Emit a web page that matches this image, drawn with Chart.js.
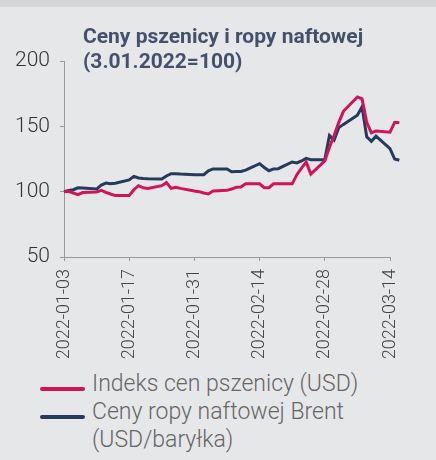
<!DOCTYPE html>
<html>
<head>
<meta charset="utf-8">
<script src="https://cdn.jsdelivr.net/npm/chart.js@4"></script>
<style>
  body { margin: 0; background: #e6e7e9; }
  #wrap { position: relative; width: 436px; height: 460px; overflow: hidden; background: #e6e7e9; }
  #band { position: absolute; left: 0; top: 0; width: 436px; height: 7px; background: #d4d5d7; }
  #box { position: absolute; left: 0; top: 0; width: 436px; height: 366px; }
  #tytul { position: absolute; left: 83px; top: 24px; font: bold 21px Roboto, sans-serif; line-height: 25px; color: #45506b; }
  #legenda { position: absolute; left: 0; top: 370px; font: 300 23px Roboto, sans-serif; line-height: 28px; color: #666; }
  .poz { position: relative; padding-left: 92px; width: 330px; }
  .kreska { position: absolute; left: 40px; top: 17px; width: 45px; height: 4px; border-radius: 2px; }
</style>
</head>
<body>
<div id="wrap">
  <div id="band"></div>
  <div id="box"><canvas id="grafico"></canvas></div>
  <div id="tytul">Ceny pszenicy i ropy naftowej<br>(3.01.2022=100)</div>
  <div id="legenda"></div>
</div>
<script>
const dni = [
  '2022-01-03','2022-01-04','2022-01-05','2022-01-06','2022-01-07',
  '2022-01-10','2022-01-11','2022-01-12','2022-01-13','2022-01-14',
  '2022-01-17','2022-01-18','2022-01-19','2022-01-20','2022-01-21',
  '2022-01-24','2022-01-25','2022-01-26','2022-01-27','2022-01-28',
  '2022-01-31','2022-02-01','2022-02-02','2022-02-03','2022-02-04',
  '2022-02-07','2022-02-08','2022-02-09','2022-02-10','2022-02-11',
  '2022-02-14','2022-02-15','2022-02-16','2022-02-17','2022-02-18',
  '2022-02-21','2022-02-22','2022-02-23','2022-02-24','2022-02-25',
  '2022-02-28','2022-03-01','2022-03-02','2022-03-03','2022-03-04',
  '2022-03-07','2022-03-08','2022-03-09','2022-03-10','2022-03-11',
  '2022-03-14','2022-03-15','2022-03-16'
];

const pszenica = [
  100, 100.3, 99, 97.7, 99.3,
  99.8, 101, 99.5, 98.2, 97,
  97, 101.5, 104.6, 103, 102.5,
  104.6, 107, 102.5, 103.3, 102.5,
  100.5, 100, 99, 98.2, 100.5,
  101, 102, 103.3, 103.5, 106,
  106, 103, 103, 106, 106,
  106, 113, 118, 122.7, 113.5,
  123.5, 134, 143, 153, 161.5,
  172.5, 171, 153, 145, 146.5,
  145.5, 153, 153
];

const brent = [
  100, 101, 101.5, 103, 102.8,
  102, 105, 106.6, 106, 106.5,
  109, 111.7, 110.5, 110, 109.8,
  109.7, 112, 113.8, 113.8, 113.5,
  113, 113, 113, 116, 117.4,
  117.4, 115.3, 115.5, 115.5, 116.5,
  121.4, 118.5, 116, 117.4, 117.6,
  122.7, 122, 123.5, 125.5, 124.5,
  124.5, 143, 139.5, 149, 151.5,
  158.5, 165, 142, 138.5, 142.5,
  133, 125, 124
];

const etykietyX = ['2022-01-03', '2022-01-17', '2022-01-31', '2022-02-14', '2022-02-28', '2022-03-14'];
const etykietyY = [50, 100, 150, 200];
const nazwy = ['Indeks cen pszenicy (USD)', 'Ceny ropy naftowej Brent (USD/baryłka)'];
const kolory = ['#d0145a', '#263a5c'];

// dzien od poczatku (3.01.2022)
const start = Date.parse(dni[0]);
const dzien = (d) => Math.round((Date.parse(d) - start) / 86400000);
const punkty = (arr) => dni.map((d, i) => ({ x: dzien(d), y: arr[i] }));
const krok = dzien(etykietyX[1]);
const koniecOsi = dzien(etykietyX[etykietyX.length - 1]);

const ctx = document.querySelector('#grafico').getContext('2d');
const miGrafico = new Chart(ctx, {
  type: 'line',
  data: {
    datasets: [
      { label: nazwy[0], data: punkty(pszenica), borderColor: kolory[0], borderWidth: 3, pointRadius: 0, tension: 0, clip: false },
      { label: nazwy[1], data: punkty(brent), borderColor: kolory[1], borderWidth: 3, pointRadius: 0, tension: 0, clip: false }
    ]
  },
  options: {
    responsive: true,
    maintainAspectRatio: false,
    animation: false,
    layout: { padding: { top: 61, right: 46, bottom: 4, left: 0 } },
    plugins: { legend: { display: false }, tooltip: { enabled: false } },
    scales: {
      x: {
        type: 'linear',
        // os konczy sie na 14.03, linie ida troche dalej
        afterDataLimits: (s) => { s.min = 0; s.max = koniecOsi; },
        afterFit: (s) => { s.height = 105; },
        border: { display: true, color: '#9a9a9a', width: 1 },
        grid: { drawOnChartArea: false, drawTicks: true, tickLength: 4, color: '#9a9a9a' },
        ticks: {
          stepSize: krok,
          autoSkip: false,
          minRotation: 90,
          maxRotation: 90,
          padding: 8,
          color: '#444',
          font: { family: 'Roboto, sans-serif', size: 18, weight: 300 },
          callback: (v) => etykietyX[Math.round(v / krok)]
        }
      },
      y: {
        min: etykietyY[0],
        max: etykietyY[etykietyY.length - 1],
        afterFit: (s) => { s.width = 64; },
        border: { display: true, color: '#9a9a9a', width: 1 },
        grid: { drawOnChartArea: false, drawTicks: true, tickLength: 4, color: '#9a9a9a' },
        afterBuildTicks: (s) => { s.ticks = etykietyY.map((v) => ({ value: v })); },
        ticks: {
          padding: 10,
          color: '#333',
          font: { family: 'Roboto, sans-serif', size: 21, weight: 300 }
        }
      }
    }
  }
});

const legenda = document.querySelector('#legenda');
nazwy.forEach((n, i) => {
  const poz = document.createElement('div');
  poz.className = 'poz';
  poz.innerHTML = `<span class="kreska" style="background:${kolory[i]}"></span>${n}`;
  legenda.appendChild(poz);
});
</script>
</body>
</html>
